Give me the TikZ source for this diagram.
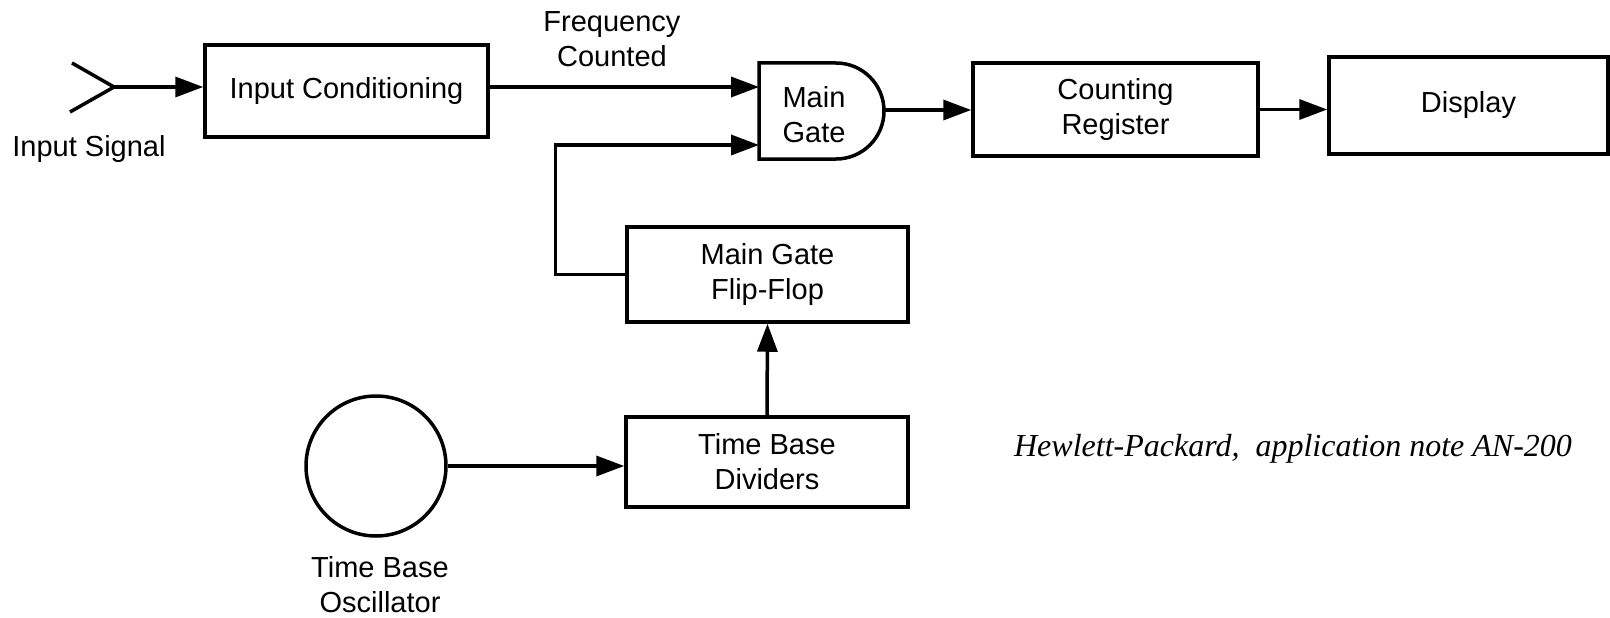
\documentclass[tikz,border=0pt]{standalone}
\usepackage{fontspec}
\setmainfont{Liberation Sans}
\newfontfamily\hpfont{Liberation Serif}
\usetikzlibrary{arrows.meta,calc}
\begin{document}
\begin{tikzpicture}[x=1pt,y=-1pt,
  every node/.style={font=\fontsize{29}{35}\selectfont, align=center, inner sep=0pt},
  blk/.style={draw, line width=3.5pt, rectangle},
  arr/.style={line width=3.5pt, -{Triangle[length=28pt,width=20pt]}},
  wire/.style={line width=3.5pt}]
\useasboundingbox (0,0) rectangle (1610,618);

% blocks
\node[blk, minimum width=283pt, minimum height=92pt] (icond) at (346.5,91) {Input Conditioning};
\node[blk, minimum width=285pt, minimum height=93pt] (creg) at (1115.5,109.5) {Counting\\Register};
\node[blk, minimum width=279pt, minimum height=97pt] (disp) at (1468.5,105.5) {Display};
\node[blk, minimum width=281pt, minimum height=95pt] (ff) at (767.5,274.5) {Main Gate\\Flip-Flop};
\node[blk, minimum width=282pt, minimum height=90pt] (tbd) at (767,462) {Time Base\\Dividers};
\node[draw, line width=3.5pt, circle, minimum size=140pt] (osc) at (376,466) {};

% main gate (AND shape)
\draw[wire] (759,63) -- (836,63) arc[start angle=-90, end angle=90, radius=48] -- (759,159) -- cycle;
\node (gate) at (814,115) {Main\\Gate};
\coordinate (gin1) at (759,87);
\coordinate (gin2) at (759,145);
\coordinate (gout) at (884,110);

% antenna
\coordinate (ant) at (114,87);
\coordinate (antA) at (72,63);
\coordinate (antB) at (70,112);
\draw[wire] (antA) -- (ant) -- (antB);

% labels
\node (lsig) at (89,149) {Input Signal};
\node (lfreq) at (612,39) {Frequency\\Counted};
\node (losc) at (380,585) {Time Base\\Oscillator};
\node[font=\hpfont\itshape\fontsize{32}{35}\selectfont] (lhp) at (1293,449) {Hewlett-Packard,\ \ application note AN-200};

% connectors
\draw[arr] (ant) -- (ant -| icond.west);
\draw[arr] (icond.east |- gin1) -- (gin1);
\draw[arr] (ff.west) -- ++(-70,0) |- (gin2);
\draw[arr] (tbd.north) -- (ff.south);
\draw[arr] (osc.east) -- (osc.east -| tbd.west);
\draw[arr] (gout) -- (gout -| creg.west);
\draw[arr] (creg.east) -- (creg.east -| disp.west);
\end{tikzpicture}
\end{document}
